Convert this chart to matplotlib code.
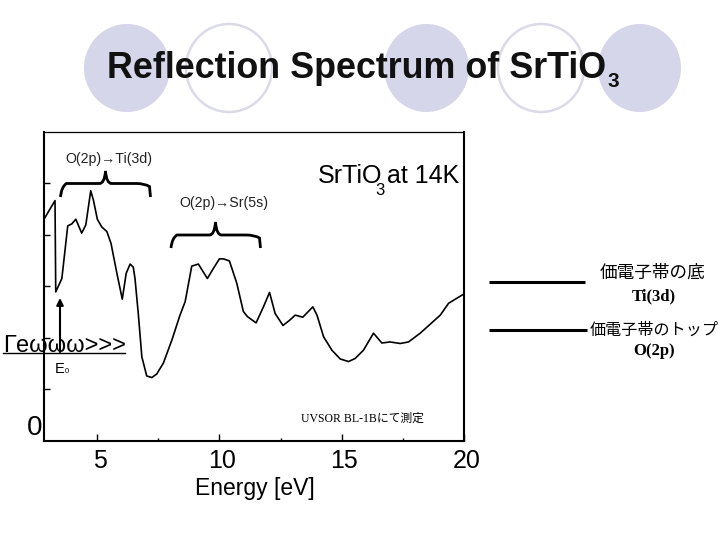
import matplotlib
matplotlib.use("Agg")
import matplotlib.pyplot as plt
from matplotlib.patches import Ellipse, PathPatch
from matplotlib.path import Path
from matplotlib.transforms import ScaledTranslation

energy = [2.83, 3.28, 3.31, 3.56, 3.80, 3.97, 4.13, 4.37, 4.54, 4.74, 4.85, 5.01, 5.19, 5.40,
          5.57, 5.81, 6.03, 6.19, 6.35, 6.48, 6.55, 6.69, 6.83, 7.03, 7.24, 7.44, 7.71, 8.06,
          8.39, 8.60, 8.87, 9.14, 9.51, 9.76, 10.00, 10.17, 10.41, 10.71, 10.98, 11.15, 11.50,
          11.80, 12.05, 12.28, 12.60, 12.87, 13.10, 13.41, 13.82, 13.99, 14.26, 14.60, 14.94,
          15.28, 15.55, 15.89, 16.30, 16.64, 16.98, 17.39, 17.73, 18.21, 19.03, 19.37, 19.96]
reflect = [4.30, 4.66, 2.89, 3.15, 4.17, 4.21, 4.30, 4.03, 4.19, 4.85, 4.67, 4.30, 4.15, 4.06,
           3.83, 3.25, 2.75, 3.25, 3.43, 3.37, 3.15, 2.44, 1.63, 1.26, 1.23, 1.30, 1.51, 1.96,
           2.44, 2.70, 3.39, 3.43, 3.15, 3.35, 3.53, 3.53, 3.49, 3.06, 2.51, 2.41, 2.29,
           2.60, 2.88, 2.47, 2.24, 2.34, 2.44, 2.40, 2.60, 2.44, 2.02, 1.76, 1.59,
           1.54, 1.60, 1.76, 2.09, 1.90, 1.92, 1.89, 1.92, 2.09, 2.44, 2.67, 2.84]
x_major = [5, 10, 15, 20]
x_major_labels = ["5", "10", "15", "20"]
x_minor = [7.5, 12.5, 17.5]
y_major = [1, 2, 3, 4, 5]

SANS = "Liberation Sans"
SERIF_JP = ["Liberation Serif", "Noto Sans CJK JP"]

fig = plt.figure(figsize=(7.2, 5.4), dpi=100, facecolor="white")

# slide layer in pixel coordinates
bg = fig.add_axes([0, 0, 1, 1], zorder=0)
bg.set_xlim(0, 720); bg.set_ylim(540, 0); bg.axis("off")
for x0, x1, filled in [(84, 170, True), (186, 272, False), (384, 469, True), (498, 584, False), (598, 681, True)]:
    if filled:
        bg.add_patch(Ellipse(((x0+x1)/2, 68), x1-x0, 88, fc="#D6D6EA", ec="none"))
    else:
        bg.add_patch(Ellipse(((x0+x1)/2, 68), x1-x0, 88, fc="white", ec="#DADAE8", lw=1.8))

ax = fig.add_axes([44/720, (540-441)/540, 420/720, 309/540], zorder=1)
ax.patch.set_alpha(0)
ax.plot(energy, reflect, color="black", lw=1.2, solid_joinstyle="round")
ax.set_xlim(2.83, 20); ax.set_ylim(0, 5.99)
ax.set_xticks(x_major); ax.set_xticklabels(x_major_labels, family=SANS, fontsize=18)
ax.set_xticks(x_minor, minor=True)
ax.set_yticks(y_major); ax.set_yticklabels([])
ax.tick_params(axis="x", which="major", direction="in", length=5, width=1, pad=6)
ax.tick_params(axis="x", which="minor", direction="in", length=2.5, width=1)
ax.tick_params(axis="y", which="major", direction="in", length=4.5, width=1)
shift = ScaledTranslation(2.5/100, 0, fig.dpi_scale_trans)
for lab in ax.get_xticklabels():
    lab.set_transform(lab.get_transform() + shift)
ax.spines["top"].set_linewidth(0.9)
for s in ["left", "bottom", "right"]:
    ax.spines[s].set_linewidth(1.5)

# annotation layer in pixel coordinates
ov = fig.add_axes([0, 0, 1, 1], zorder=2)
ov.set_xlim(0, 720); ov.set_ylim(540, 0); ov.axis("off"); ov.patch.set_alpha(0)

ov.text(107, 78, "Reflection Spectrum of SrTiO", family=SANS, weight="bold", fontsize=25.8, va="baseline", color="#111111")
ov.text(608, 87, "3", family=SANS, weight="bold", fontsize=15, va="baseline", color="#111111")

def brace(x0, x1, xt, ytop, ybar, yend):
    v = [(x0, yend), (x0+1, ybar+3), (x0+6, ybar), (x0+14, ybar), (xt-6, ybar), (xt-1, ybar), (xt, ytop),
         (xt+1, ybar), (xt+6, ybar), (x1-14, ybar), (x1-6, ybar), (x1-1, ybar+3), (x1, yend)]
    c = [Path.MOVETO, Path.CURVE3, Path.CURVE3, Path.LINETO, Path.LINETO, Path.CURVE3, Path.CURVE3,
         Path.CURVE3, Path.CURVE3, Path.LINETO, Path.CURVE3, Path.CURVE3, Path.LINETO]
    ov.add_patch(PathPatch(Path(v, c), fc="none", ec="black", lw=2))

brace(60.5, 150.5, 105.5, 171, 183.5, 197)
brace(171, 260.5, 215.5, 222, 235, 248)

ov.text(108.5, 159.5, "O(2p)\u2192Ti(3d)", family=SANS, fontsize=10.2, ha="center", va="center", color="#222222")
ov.text(224, 202.5, "O(2p)\u2192Sr(5s)", family=SANS, fontsize=10.2, ha="center", va="center", color="#222222")

ov.text(318, 183, "SrTiO", family=SANS, fontsize=18, va="baseline")
ov.text(375, 195, "3", family=SANS, fontsize=12, va="baseline")
ov.text(387, 183, "at 14K", family=SANS, fontsize=18, va="baseline")

ov.text(3, 352, "\u0393e\u03c9\u03c9\u03c9>>>", family=["Liberation Sans", "DejaVu Sans"], fontsize=17, va="baseline")
ov.plot([3, 125], [352.5, 352.5], color="black", lw=1)
ov.annotate("", xy=(60, 298), xytext=(60, 352),
            arrowprops=dict(arrowstyle="-|>", color="black", lw=1.5, mutation_scale=10, shrinkA=0, shrinkB=0))
ov.text(55, 373, "E", family=SANS, fontsize=10.5, va="baseline")
ov.text(65, 373, "0", family=SANS, fontsize=5.5, va="baseline")
ov.text(35, 428, "0", family=SANS, fontsize=20, ha="center", va="center")
ov.text(255, 488, "Energy [eV]", family=SANS, fontsize=16.5, ha="center", va="center")

ov.text(362, 419, "UVSOR BL-1B\u306b\u3066\u6e2c\u5b9a", family=SERIF_JP, fontsize=8.5, ha="center", va="center")

for y, x1 in [(282, 585), (330, 587)]:
    ov.plot([489, x1], [y, y], color="black", lw=2.2, solid_capstyle="butt")
ov.text(653, 273, "\u4fa1\u96fb\u5b50\u5e2f\u306e\u5e95", family="Noto Sans CJK JP", fontsize=12.7, ha="center", va="center")
ov.text(654, 296, "Ti(3d)", family="Liberation Serif", weight="bold", fontsize=12, ha="center", va="center")
ov.text(654, 330, "\u4fa1\u96fb\u5b50\u5e2f\u306e\u30c8\u30c3\u30d7", family="Noto Sans CJK JP", fontsize=11.6, ha="center", va="center")
ov.text(654, 351, "O(2p)", family="Liberation Serif", weight="bold", fontsize=12, ha="center", va="center")

fig.savefig("out.png", dpi=100)
